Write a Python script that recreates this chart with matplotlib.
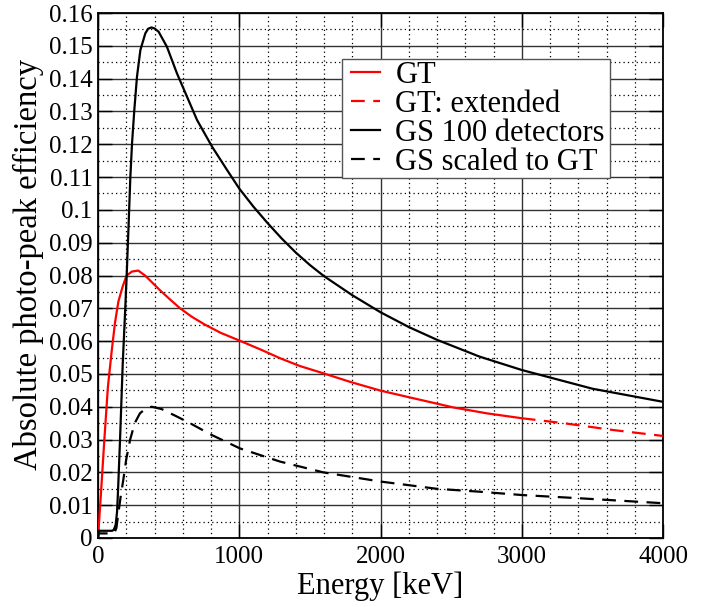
import matplotlib
matplotlib.use("Agg")
import matplotlib.pyplot as plt
from matplotlib.patches import Rectangle
from matplotlib.ticker import MultipleLocator

plt.rcParams["font.family"] = ["Liberation Serif", "DejaVu Serif"]

# GT (solid up to 3000 keV, dashed extension beyond)
gt_e = [0, 20, 45, 70, 97, 120, 144, 175, 203, 240, 285, 333, 385, 439, 510, 581,
        665, 758, 870, 1005, 1159, 1288, 1430, 1595, 1784, 2001, 2232, 2515, 2752,
        3000]
gt_eff = [0.0, 0.013, 0.030, 0.046, 0.057, 0.0655, 0.0720, 0.0767, 0.0800, 0.0812,
          0.0815, 0.0800, 0.0778, 0.0755, 0.0727, 0.0700, 0.0674, 0.0650, 0.0625,
          0.0601, 0.0573, 0.0548, 0.0524, 0.0502, 0.0476, 0.0449, 0.0426, 0.0398,
          0.0380, 0.0365]
gt_ext_e = [3000, 3295, 3648, 4000]
gt_ext_eff = [0.0365, 0.0350, 0.0329, 0.0311]

# GS 100 detectors
gs_e = [0, 3, 100, 112, 125, 135, 142, 156, 175, 193, 203, 217, 229, 241, 257, 276,
        300, 335, 355, 378, 400, 429, 488, 559, 630, 701, 807, 913, 1000, 1100, 1200,
        1300, 1400, 1500, 1600, 1800, 2000, 2200, 2400, 2700, 3000, 3500, 4000]
gs_eff = [0.0, 0.0022, 0.0022, 0.0025, 0.0040, 0.0080, 0.0146, 0.0299, 0.053,
          0.0700, 0.0800, 0.0959, 0.110, 0.1203, 0.1304, 0.1406, 0.1487, 0.1538,
          0.1552, 0.1556, 0.1553, 0.1543, 0.1497, 0.1416, 0.1345, 0.1274, 0.1193,
          0.1122, 0.1065, 0.1010, 0.0960, 0.0913, 0.0870, 0.0832, 0.0798, 0.0740,
          0.0688, 0.0643, 0.0604, 0.0553, 0.0512, 0.0455, 0.0415]

# GS scaled to GT
gss_e = [0, 3, 105, 118, 130, 144, 160, 179, 200, 227, 260, 297, 340, 380, 450, 550,
         651, 800, 1005, 1288, 1595, 2001, 2398, 2704, 3000, 3412, 4000]
gss_eff = [0.0, 0.0014, 0.0014, 0.0018, 0.0030, 0.0075, 0.0125, 0.0177, 0.0240,
           0.0299, 0.0350, 0.0380, 0.0395, 0.0400, 0.0393, 0.0372, 0.0350, 0.0315,
           0.0273, 0.0233, 0.0200, 0.0172, 0.0150, 0.0141, 0.0131, 0.0121, 0.0106]

fig = plt.figure(figsize=(7.19, 6.07), dpi=100)
ax = fig.add_axes([98 / 719, 1 - 538 / 607, 565 / 719, 525 / 607])

lw = 1.6
kw = dict(lw=lw, solid_joinstyle="round", dash_joinstyle="round", zorder=5)
ax.plot(gt_e, gt_eff, color="red", label="GT", **kw)
ax.plot(gt_ext_e, gt_ext_eff, color="red", dashes=(6.2, 3.8),
        label="GT: extended", **kw)
ax.plot(gs_e, gs_eff, color="black", label="GS 100 detectors", **kw)
ax.plot(gss_e, gss_eff, color="black", dashes=(6.2, 3.8),
        label="GS scaled to GT", **kw)

ax.set_xlim(0, 4000)
ax.set_ylim(0, 0.16)
ax.xaxis.set_major_locator(MultipleLocator(1000))
ax.xaxis.set_minor_locator(MultipleLocator(200))
ax.yaxis.set_minor_locator(MultipleLocator(0.005))
yticks = [0.0, 0.01, 0.02, 0.03, 0.04, 0.05, 0.06, 0.07, 0.08, 0.09, 0.1,
          0.11, 0.12, 0.13, 0.14, 0.15, 0.16]
ytick_labels = ["0", "0.01", "0.02", "0.03", "0.04", "0.05", "0.06", "0.07",
                "0.08", "0.09", "0.1", "0.11", "0.12", "0.13", "0.14", "0.15", "0.16"]
ax.set_yticks(yticks)
ax.set_yticklabels(ytick_labels)

ax.grid(which="major", color="#333333", lw=1.0, ls="-")
ax.grid(which="minor", color="black", lw=0.9, ls=(0, (1, 2.5)))
ax.set_axisbelow(True)

ax.tick_params(which="major", direction="in", length=10, width=1.0,
               top=True, right=True, labelsize=18)
ax.tick_params(axis="y", pad=4)
ax.tick_params(axis="x", pad=6)
ax.tick_params(which="minor", direction="in", length=0, top=True, right=True)
for s in ax.spines.values():
    s.set_linewidth(1.3)

ax.set_xlabel("Energy [keV]", fontsize=22, labelpad=2)
ax.set_ylabel("Absolute photo-peak efficiency", fontsize=23.5)
ax.yaxis.set_label_coords(-(98 - 44) / 565, (538 - 264) / 525)

# legend box (square, white, grey edge)
ax.add_patch(Rectangle(((342 - 98) / 565, (538 - 178) / 525), 268 / 565, 119 / 525,
                       transform=ax.transAxes, facecolor="white",
                       edgecolor="#555555", lw=1.0, zorder=6))
leg = ax.legend(loc="upper left", bbox_to_anchor=((351 - 98) / 565, (538 - 61) / 525),
                borderaxespad=0, fontsize=22, frameon=False,
                handlelength=0.95, handletextpad=0.5,
                labelspacing=0.0, borderpad=0.0)
leg.set_zorder(7)

fig.savefig("out.png", dpi=100)
